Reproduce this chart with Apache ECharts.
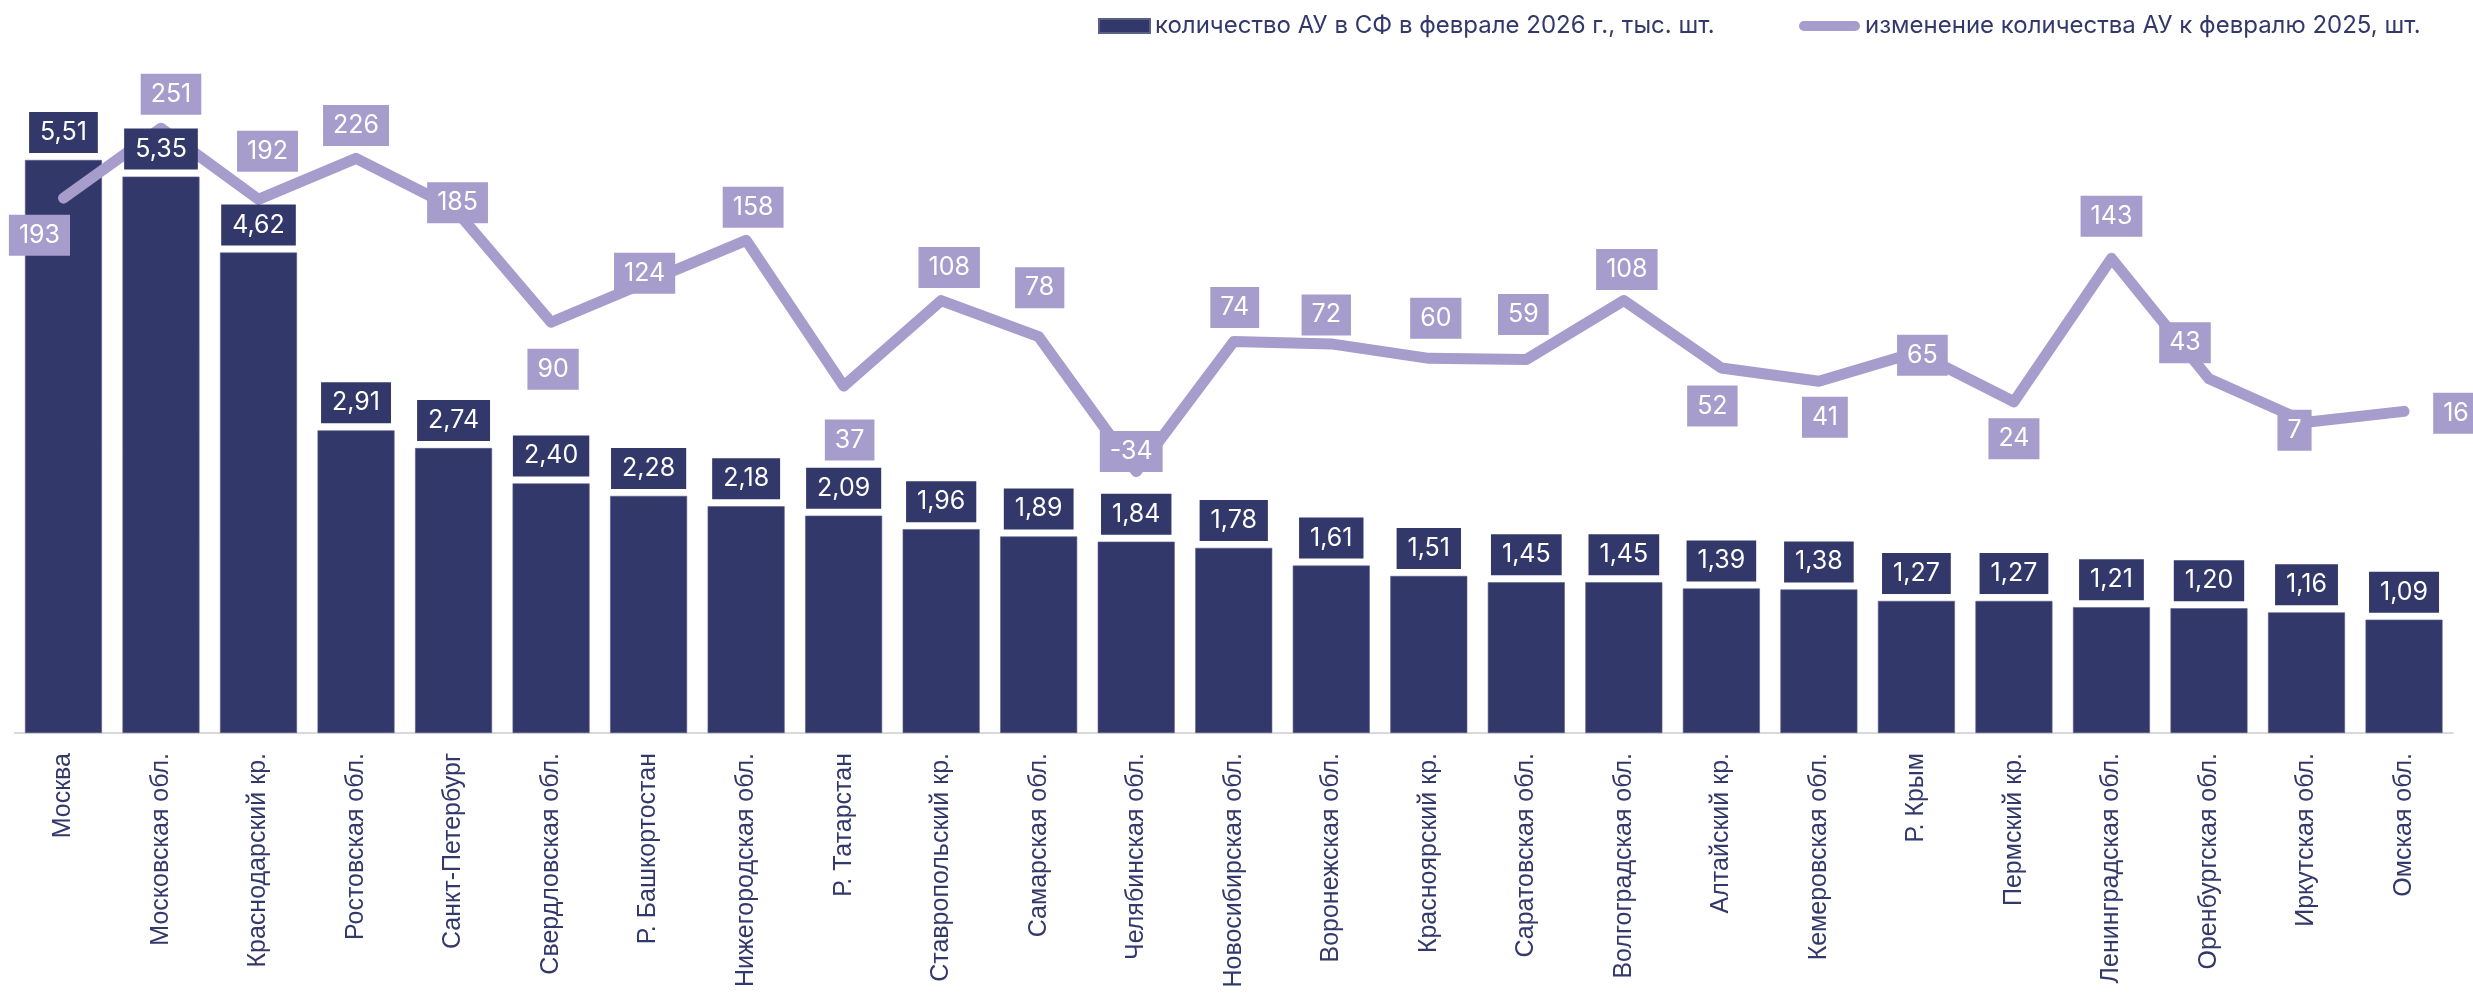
<!DOCTYPE html>
<html><head><meta charset="utf-8">
<script src="https://cdn.jsdelivr.net/npm/echarts@6/dist/echarts.min.js"></script>
<style>html,body{margin:0;padding:0;background:#fff}#c{width:2473px;height:1001px}</style>
</head><body><div id="c"></div>
<script>
const categories = ['Москва','Московская обл.','Краснодарский кр.','Ростовская обл.','Санкт-Петербург','Свердловская обл.','Р. Башкортостан','Нижегородская обл.','Р. Татарстан','Ставропольский кр.','Самарская обл.','Челябинская обл.','Новосибирская обл.','Воронежская обл.','Красноярский кр.','Саратовская обл.','Волгоградская обл.','Алтайский кр.','Кемеровская обл.','Р. Крым','Пермский кр.','Ленинградская обл.','Оренбургская обл.','Иркутская обл.','Омская обл.'];
const countValues = [5.51,5.35,4.62,2.91,2.74,2.40,2.28,2.18,2.09,1.96,1.89,1.84,1.78,1.61,1.51,1.45,1.45,1.39,1.38,1.27,1.27,1.21,1.20,1.16,1.09];
const changeValues = [193,251,192,226,185,90,124,158,37,108,78,-34,74,72,60,59,108,52,41,65,24,143,43,7,16];
const seriesNames = ['количество АУ в СФ в феврале 2026 г., тыс. шт.','изменение количества АУ к февралю 2025, шт.'];
// label placement (manual placements in the original)
const lineLabelOffsets = [[-24,37],[10,-34],[9,-48],[0,-33],[4,-5],[2,47],[-4,-8],[7,-33],[6,54],[8,-33],[1,-49],[-5,-20],[1,-34],[-5,-29],[7,-40],[-3,-45],[3,-31],[-9,38],[6,36],[6,3],[0,37],[0,-42],[-24,-36],[-12,8],[52,2]];

const NAVY = '#33386b';
const LAV = '#a69dcc';
const chart = echarts.init(document.getElementById('c'), null, {renderer:'canvas'});
const fmt2 = v => v.toFixed(2).replace('.', ',');

chart.setOption({
  animation: false,
  backgroundColor: '#fff',
  legend: [
    {data:[seriesNames[0]], left:1093, top:9, itemWidth:51, itemHeight:14, icon:'rect',
     textStyle:{fontFamily:'Inter', fontSize:24, color:NAVY}},
    {data:[seriesNames[1]], left:1794, top:9, itemWidth:61, itemHeight:10,
     icon:'path://M5,0 L56,0 A5,5 0 0 1 56,10 L5,10 A5,5 0 0 1 5,0 Z',
     textStyle:{fontFamily:'Inter', fontSize:24, color:NAVY}}
  ],
  grid: {left:14.7, right:20.2, top:109, bottom:268, containLabel:false},
  xAxis: {
    type:'category', data:categories,
    axisLine:{lineStyle:{color:'#d9d9d9', width:2}},
    axisTick:{show:false},
    axisLabel:{rotate:90, margin:20, interval:0, fontFamily:'Liberation Sans, Arial', fontSize:25, color:NAVY}
  },
  yAxis: [
    {type:'value', min:0, max:6, show:false, splitLine:{show:false}},
    {type:'value', min:-251, max:267, show:false, splitLine:{show:false}}
  ],
  series: [
    {name:seriesNames[0], type:'bar', data:countValues, barWidth:77, z:2,
     itemStyle:{color:NAVY, borderColor:'#5a5f8a', borderWidth:0.6}},
    {name:seriesNames[1], type:'line', yAxisIndex:1, z:3,
     data: changeValues.map((v,i)=>({value:v, label:{offset:lineLabelOffsets[i]}})),
     symbol:'circle', symbolSize:1, itemStyle:{color:LAV},
     lineStyle:{color:LAV, width:11, cap:'round', join:'round'},
     label:{show:true, position:'inside', color:'#fff', backgroundColor:LAV,
            fontFamily:'Inter', fontSize:25, lineHeight:29, padding:[6,10]}},
    {name:'labels', type:'bar', data:countValues, barWidth:77, barGap:'-100%', z:4,
     itemStyle:{color:'rgba(0,0,0,0)'}, silent:true,
     label:{show:true, position:'top', distance:7, color:'#fff', backgroundColor:NAVY,
            fontFamily:'Inter', fontSize:25, lineHeight:29, padding:[6,11],
            formatter: p => fmt2(p.value)}}
  ]
});
</script></body></html>
